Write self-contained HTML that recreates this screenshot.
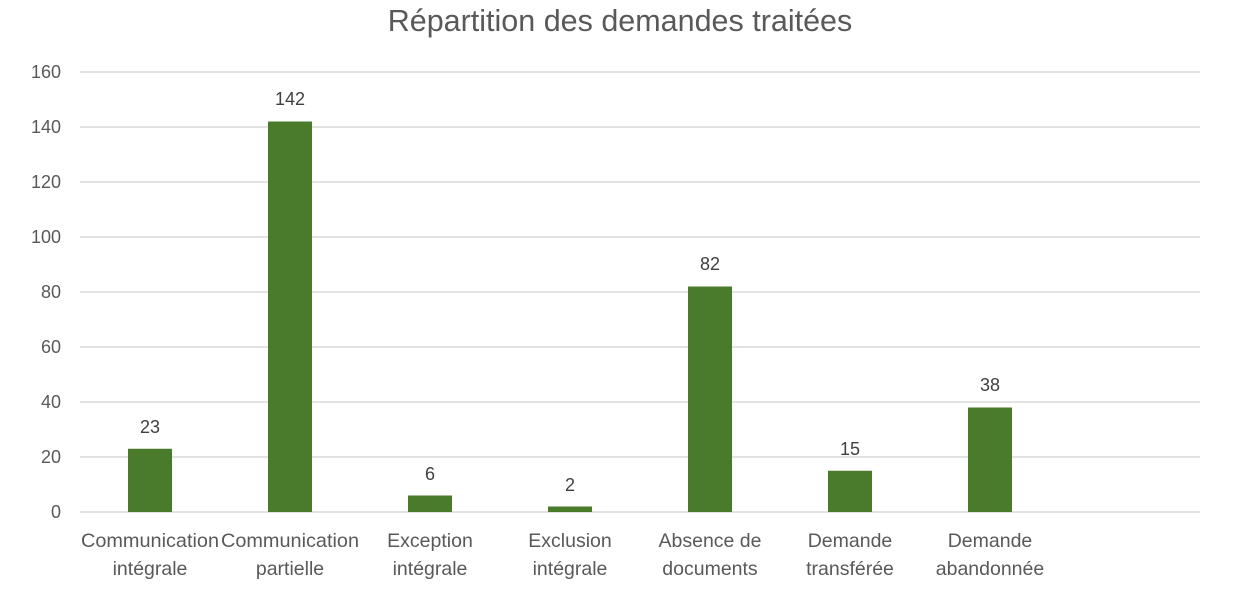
<!DOCTYPE html>
<html><head><meta charset="utf-8"><style>
html,body{margin:0;padding:0;background:#fff;}
svg{display:block;font-family:"Liberation Sans",sans-serif;}
</style></head><body>
<svg width="1233" height="589" viewBox="0 0 1233 589" xmlns="http://www.w3.org/2000/svg">
<rect width="1233" height="589" fill="#fff"/>
<text x="620" y="31" text-anchor="middle" font-size="30.5" fill="#595959">Répartition des demandes traitées</text>
<g stroke="#d9d9d9" stroke-width="1.5">
<line x1="80" x2="1200" y1="72" y2="72"/>
<line x1="80" x2="1200" y1="127" y2="127"/>
<line x1="80" x2="1200" y1="182" y2="182"/>
<line x1="80" x2="1200" y1="237" y2="237"/>
<line x1="80" x2="1200" y1="292" y2="292"/>
<line x1="80" x2="1200" y1="347" y2="347"/>
<line x1="80" x2="1200" y1="402" y2="402"/>
<line x1="80" x2="1200" y1="457" y2="457"/>
<line x1="80" x2="1200" y1="512" y2="512"/>
</g>
<g font-size="18" fill="#595959" text-anchor="end">
<text x="61" y="78">160</text><text x="61" y="133">140</text><text x="61" y="188">120</text>
<text x="61" y="243">100</text><text x="61" y="298">80</text><text x="61" y="353">60</text>
<text x="61" y="408">40</text><text x="61" y="463">20</text><text x="61" y="518">0</text>
</g>
<g fill="#4a7b2a">
<rect x="128" y="448.75" width="44" height="63.25"/>
<rect x="268" y="121.5" width="44" height="390.5"/>
<rect x="408" y="495.5" width="44" height="16.5"/>
<rect x="548" y="506.5" width="44" height="5.5"/>
<rect x="688" y="286.5" width="44" height="225.5"/>
<rect x="828" y="470.75" width="44" height="41.25"/>
<rect x="968" y="407.5" width="44" height="104.5"/>
</g>
<g font-size="18" fill="#404040" text-anchor="middle">
<text x="150" y="433">23</text><text x="290" y="105">142</text><text x="430" y="480">6</text>
<text x="570" y="491">2</text><text x="710" y="270">82</text><text x="850" y="455">15</text>
<text x="990" y="391">38</text>
</g>
<g font-size="19.5" fill="#595959" text-anchor="middle">
<text x="150" y="547" textLength="138" lengthAdjust="spacingAndGlyphs">Communication</text><text x="150" y="575">intégrale</text>
<text x="290" y="547" textLength="138" lengthAdjust="spacingAndGlyphs">Communication</text><text x="290" y="575">partielle</text>
<text x="430" y="547">Exception</text><text x="430" y="575">intégrale</text>
<text x="570" y="547">Exclusion</text><text x="570" y="575">intégrale</text>
<text x="710" y="547">Absence de</text><text x="710" y="575">documents</text>
<text x="850" y="547">Demande</text><text x="850" y="575">transférée</text>
<text x="990" y="547">Demande</text><text x="990" y="575">abandonnée</text>
</g>
</svg>
</body></html>
